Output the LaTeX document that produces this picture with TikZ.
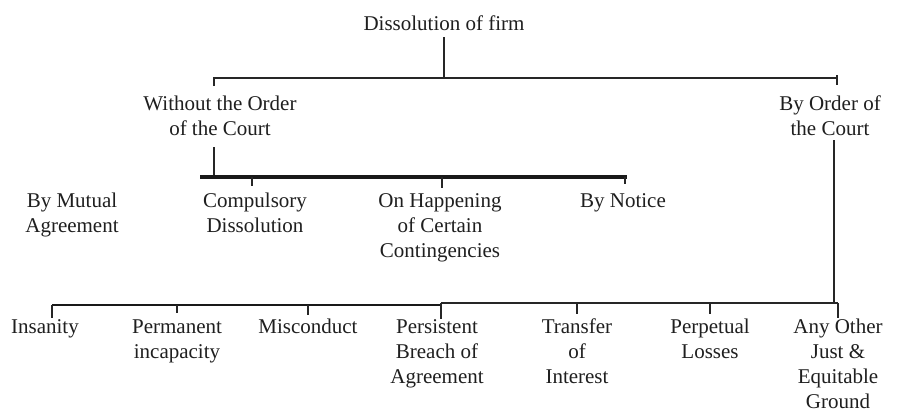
\documentclass[tikz,border=0pt]{standalone}
\usepackage{fontspec}
\setmainfont{Liberation Serif}
\begin{document}
\begin{tikzpicture}[x=1pt,y=-1pt,
  every node/.style={font=\fontsize{21}{25}\selectfont, inner sep=0pt, align=center, anchor=north, text=black!88},
  ln/.style={line width=1.4pt, black!85},
  thk/.style={line width=3.6pt, black!90},
  med/.style={line width=2.8pt, black!90},
  thn/.style={line width=2pt, black!85}]
\useasboundingbox[fill=white] (0,0) rectangle (905,416);

% nodes (anchor north; every line carries a strut: baseline = y + 17.5)
\node (root)   at (444,12.5)  {\strut Dissolution of firm};
\node (wo)     at (220,92.5)  {\strut Without the Order\\\strut of the Court};
\node (bo)     at (830,92.5)  {\strut By Order of\\\strut the Court};
\node (mut)    at (72,189.5)  {\strut By Mutual\\\strut Agreement};
\node (comp)   at (255,189.5) {\strut Compulsory\\\strut Dissolution};
\node (hap)    at (440,189.5) {\strut On Happening\\\strut of Certain\\\strut Contingencies};
\node (notice) at (623,189.5) {\strut By Notice};
\node (ins)    at (45,315.5)  {\strut Insanity};
\node (perm)   at (177,315.5) {\strut Permanent\\\strut incapacity};
\node (mis)    at (308,315.5) {\strut Misconduct};
\node (pers)   at (437,315.5) {\strut Persistent\\\strut Breach of\\\strut Agreement};
\node (tra)    at (577,315.5) {\strut Transfer\\\strut of\\\strut Interest};
\node (perp)   at (710,315.5) {\strut Perpetual\\\strut Losses};
\node (any)    at (838,315.5) {\strut Any Other\\\strut Just \&\\\strut Equitable\\\strut Ground};

% coordinates
\coordinate (tTop) at (444,37);
\coordinate (tJ) at (444,78);
\coordinate (tL) at (214,78);
\coordinate (tR) at (837,78);
\coordinate (wTop) at (214,147);
\coordinate (mJ) at (214,177);
\coordinate (mL) at (200,177);
\coordinate (mR) at (627,177);
\coordinate (rTop) at (834,140);
\coordinate (bJ) at (834,303);
\coordinate (bL) at (52,305);
\coordinate (bM) at (441,305);
\coordinate (bM2) at (441,303);
\coordinate (bR) at (838,303);

% top level
\draw[ln] (tTop) -- (tJ);
\draw[ln] ([yshift=-8pt]tL) -- (tL) -- (tR) -- ([yshift=-7pt]tR);
\draw[ln] ([yshift=3pt]tR) -- (tR);

% left branch
\draw[ln] (wTop) -- (mJ);
\draw[thk] (mL) -- (mR);
\draw[ln] (252,177) -- (252,186);
\draw[ln] (442,177) -- (442,188);
\draw[ln] (625,177) -- (625,184);

% right branch
\draw[ln] (rTop) -- (bJ);
\draw[med] (bL) -- (bM);
\draw[thn] (bM2) -- (bR);
\draw[ln] (bL) -- ++(0,13);
\draw[ln] (177,305) -- ++(0,8);
\draw[ln] (308,305) -- ++(0,10);
\draw[ln] (441,303) -- ++(0,16);
\draw[ln] (577,303) -- ++(0,11);
\draw[ln] (710,303) -- ++(0,11);
\draw[ln] (bR) -- ++(0,15);
\end{tikzpicture}
\end{document}
